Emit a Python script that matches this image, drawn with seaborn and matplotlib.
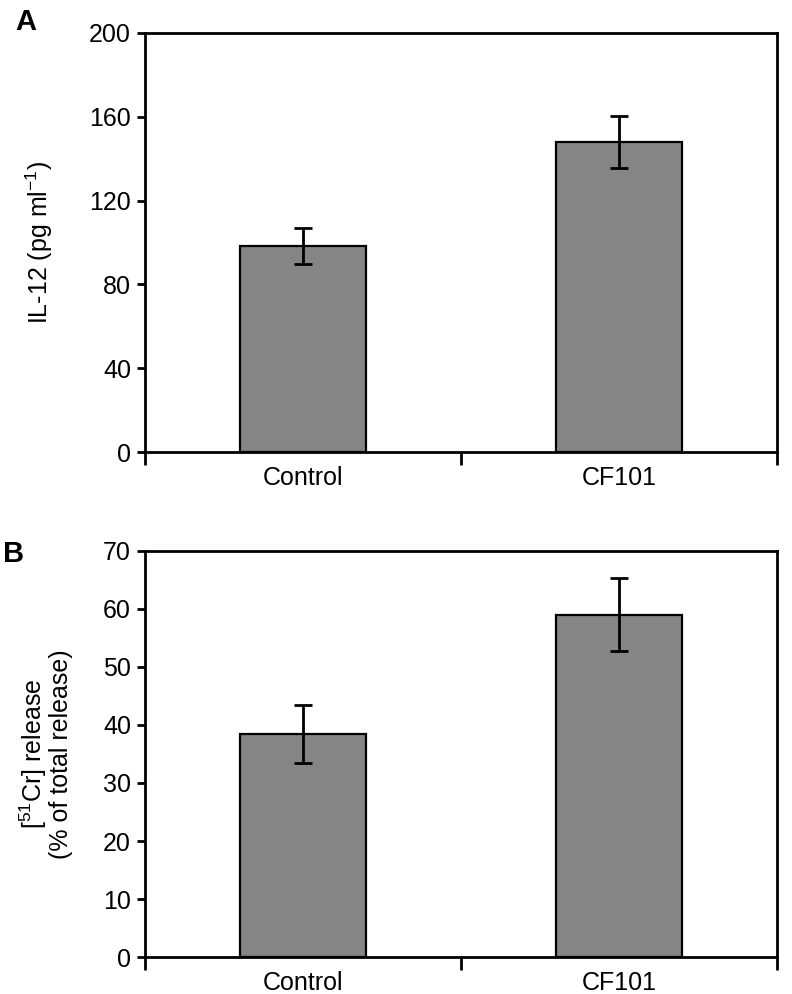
import matplotlib
matplotlib.use("Agg")
import matplotlib.pyplot as plt
import seaborn as sns

# data
categories = ["Control", "CF101"]
il12_mean = [98.5, 148]
il12_err = [8.5, 12.5]
cr_mean = [38.5, 59]
cr_err = [5.0, 6.3]

sns.set_style("white")
plt.rcParams["font.family"] = ["Liberation Sans", "DejaVu Sans"]
plt.rcParams["mathtext.fontset"] = "custom"
plt.rcParams["mathtext.rm"] = "Liberation Sans"
plt.rcParams["mathtext.it"] = "Liberation Sans"
plt.rcParams["mathtext.default"] = "regular"
for key in ["text.color", "axes.labelcolor", "xtick.color", "ytick.color"]:
    plt.rcParams[key] = "black"

BAR = "#858585"
FS = 18


def draw_panel(ax, means, errs, ymax, ystep, ylabel, label_x):
    sns.barplot(x=categories, y=means, color=BAR, saturation=1,
                edgecolor="black", linewidth=1.6, width=0.4,
                errorbar=None, ax=ax)
    ax.errorbar(range(len(categories)), means, yerr=errs, fmt="none",
                ecolor="black", elinewidth=2, capsize=6.5, capthick=2)
    ax.set_xlim(-0.5, 1.5)
    ax.set_ylim(0, ymax)
    ax.set_yticks(range(0, ymax + 1, ystep))
    ax.set_xticks([-0.5, 0.5, 1.5], minor=True)
    ax.tick_params(axis="x", which="major", length=0, pad=10, labelsize=FS)
    ax.tick_params(axis="x", which="minor", length=9, width=2,
                   direction="out", bottom=True)
    ax.tick_params(axis="y", length=6, width=2, direction="out", left=True,
                   pad=4, labelsize=FS)
    for s in ax.spines.values():
        s.set_visible(True)
        s.set_linewidth(2)
        s.set_color("black")
    ax.set_ylabel(ylabel, fontsize=FS, linespacing=1.0)
    # label position is its right edge, in axes units
    ax.yaxis.set_label_coords(label_x, 0.5)


fig = plt.figure(figsize=(7.92, 9.94), dpi=100)
ax_a = fig.add_axes([0.183, 0.545, 0.798, 0.422])
ax_b = fig.add_axes([0.183, 0.037, 0.798, 0.409])

draw_panel(ax_a, il12_mean, il12_err, 200, 40,
           "IL-12 (pg ml$^{\u22121}$)", -0.142)
draw_panel(ax_b, cr_mean, cr_err, 70, 10,
           "[$^{51}$Cr] release\n(% of total release)", -0.114)

fig.text(0.019, 0.992, "A", fontsize=21, fontweight="bold", va="top")
fig.text(0.004, 0.457, "B", fontsize=21, fontweight="bold", va="top")

fig.savefig("out.png", dpi=100)
